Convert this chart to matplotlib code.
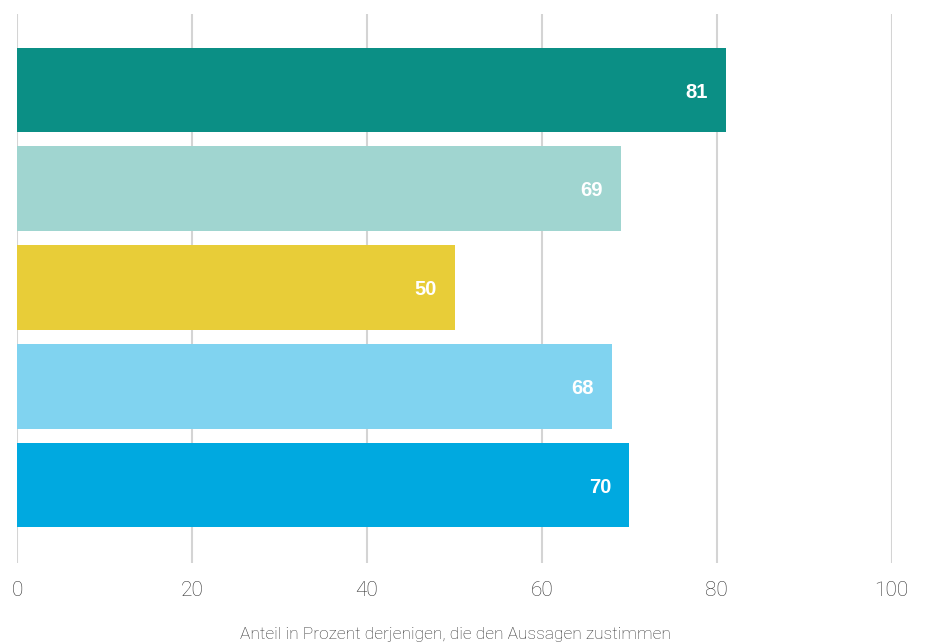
import matplotlib
matplotlib.use("Agg")
import matplotlib.pyplot as plt

# Zustimmung je Aussage (Prozent)
values = [81, 69, 50, 68, 70]
colors = ["#0b8f85", "#a0d5d0", "#e8cd38", "#80d3f0", "#00a9e0"]
x_ticks = [0, 20, 40, 60, 80, 100]
x_label = "Anteil in Prozent derjenigen, die den Aussagen zustimmen"

W, H = 928, 644
fig = plt.figure(figsize=(W / 100, H / 100), dpi=100)
left, right = 17.3 / W, 891.7 / W
top, bottom = 14 / H, 563 / H
ax = fig.add_axes([left, 1 - bottom, right - left, bottom - top])

positions = list(range(len(values)))
ax.barh(positions, values, height=0.858, color=colors, zorder=2)

for pos, val in zip(positions, values):
    ax.annotate(f"{val}", xy=(val, pos), xytext=(-13, -1.5), textcoords="offset points",
                ha="right", va="center", color="white", fontsize=14.5,
                fontweight="bold", family=["Liberation Sans", "DejaVu Sans"], zorder=3)

ax.set_xlim(0, 100)
ax.set_ylim(4.79, -0.77)
ax.set_xticks(x_ticks)
ax.set_xticklabels([str(t) for t in x_ticks], fontsize=15, color="#333333",
                   family=["Roboto", "DejaVu Sans"], fontweight="light")
ax.set_yticks([])
ax.tick_params(axis="x", length=0, pad=13)
ax.grid(axis="x", color="#d4d4d4", linewidth=1.5, zorder=1)
for s in ax.spines.values():
    s.set_visible(False)

fig.text(455 / W, 9 / H, x_label, ha="center", va="center",
         fontsize=12.5, color="#333333", family=["Roboto", "DejaVu Sans"],
         fontweight="light")

fig.savefig("out.png", dpi=100)
